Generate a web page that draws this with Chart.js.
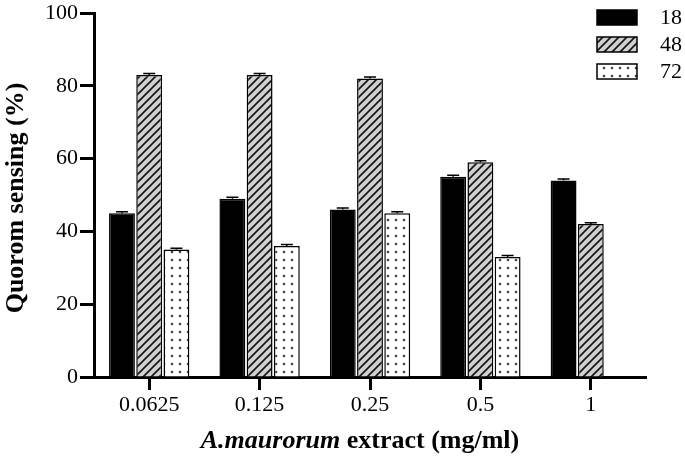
<!DOCTYPE html>
<html>
<head>
<meta charset="utf-8">
<script src="https://cdn.jsdelivr.net/npm/chart.js@4/dist/chart.umd.min.js"></script>
<style>
  html, body { margin: 0; padding: 0; background: #fff; }
  #wrap { width: 685px; height: 459px; position: relative; }
</style>
</head>
<body>
<div id="wrap"><canvas id="qsChart"></canvas></div>
<script>
// --- Data ---
const doses = ['0.0625', '0.125', '0.25', '0.5', '1'];
const seriesNames = ['18', '48', '72'];
const qs18 = [45, 49, 46, 55, 54];
const qs48 = [83, 83, 82, 59, 42];
const qs72 = [35, 36, 45, 33, null];
const err18 = [0.4, 0.4, 0.4, 0.4, 0.4];
const err48 = [0.4, 0.4, 0.4, 0.4, 0.4];
const err72 = [0.4, 0.4, 0.4, 0.4, null];
const yTicks = [0, 20, 40, 60, 80, 100];

const SERIF = '"Liberation Serif", "DejaVu Serif", serif';

// --- Fill patterns ---
function hatchPattern() {
    const c = document.createElement('canvas');
    c.width = 8; c.height = 8;
    const g = c.getContext('2d');
    g.fillStyle = '#d0d0d0';
    g.fillRect(0, 0, 8, 8);
    g.strokeStyle = '#111';
    g.lineWidth = 1.6;
    g.beginPath();
    g.moveTo(-2, 10); g.lineTo(10, -2);
    g.moveTo(-2, 2); g.lineTo(2, -2);
    g.moveTo(6, 10); g.lineTo(10, 6);
    g.stroke();
    return g.createPattern(c, 'repeat');
}

function dotPattern() {
    const c = document.createElement('canvas');
    c.width = 8; c.height = 8;
    const g = c.getContext('2d');
    g.fillStyle = '#fff';
    g.fillRect(0, 0, 8, 8);
    g.fillStyle = '#444';
    g.beginPath();
    g.arc(4, 4, 1.3, 0, Math.PI * 2);
    g.fill();
    return g.createPattern(c, 'repeat');
}

const fills = ['#000', hatchPattern(), dotPattern()];
const errs = [err18, err48, err72];

// --- Error caps, legend and axis titles drawn on top ---
const extrasPlugin = {
    id: 'extras',
    afterDatasetsDraw(chart) {
        const ctx = chart.ctx;
        const y = chart.scales.y;
        ctx.save();
        ctx.strokeStyle = '#000';
        ctx.lineWidth = 1.5;
        chart.data.datasets.forEach((ds, i) => {
            const meta = chart.getDatasetMeta(i);
            meta.data.forEach((bar, j) => {
                const v = ds.data[j];
                const e = errs[i][j];
                if (v == null || e == null) return;
                const top = y.getPixelForValue(v + e);
                ctx.beginPath();
                ctx.moveTo(bar.x, bar.y);
                ctx.lineTo(bar.x, top);
                ctx.moveTo(bar.x - 6, top);
                ctx.lineTo(bar.x + 6, top);
                ctx.stroke();
            });
        });
        ctx.restore();
    },
    afterDraw(chart) {
        const ctx = chart.ctx;
        ctx.save();

        // legend
        const boxX = 597, boxW = 40, boxH = 15;
        const rowsY = [10, 37, 64];
        chart.data.datasets.forEach((ds, i) => {
            ctx.fillStyle = ds.backgroundColor;
            ctx.fillRect(boxX, rowsY[i], boxW, boxH);
            ctx.strokeStyle = '#000';
            ctx.lineWidth = 1.5;
            ctx.strokeRect(boxX, rowsY[i], boxW, boxH);
            ctx.fillStyle = '#000';
            ctx.font = '22px ' + SERIF;
            ctx.textAlign = 'left';
            ctx.textBaseline = 'middle';
            ctx.fillText(ds.label, 660, rowsY[i] + boxH / 2 + 1);
        });

        // y title
        ctx.fillStyle = '#000';
        ctx.font = 'bold 26px ' + SERIF;
        ctx.textAlign = 'center';
        ctx.textBaseline = 'alphabetic';
        ctx.save();
        ctx.translate(23, 198);
        ctx.rotate(-Math.PI / 2);
        ctx.fillText('Quorom sensing (%)', 0, 0);
        ctx.restore();

        // x title, species name in italics
        const part1 = 'A.maurorum';
        const part2 = ' extract (mg/ml)';
        ctx.font = 'italic bold 26px ' + SERIF;
        const w1 = ctx.measureText(part1).width;
        ctx.font = 'bold 26px ' + SERIF;
        const w2 = ctx.measureText(part2).width;
        const startX = 360 - (w1 + w2) / 2;
        ctx.textAlign = 'left';
        ctx.font = 'italic bold 26px ' + SERIF;
        ctx.fillText(part1, startX, 448);
        ctx.font = 'bold 26px ' + SERIF;
        ctx.fillText(part2, startX + w1, 448);

        ctx.restore();
    }
};

const ctx = document.getElementById('qsChart').getContext('2d');

new Chart(ctx, {
    type: 'bar',
    data: {
        labels: doses,
        datasets: [qs18, qs48, qs72].map((d, i) => ({
            label: seriesNames[i],
            data: d,
            backgroundColor: fills[i],
            borderColor: '#000',
            borderWidth: 1.5,
            borderSkipped: 'bottom',
            categoryPercentage: 0.74,
            barPercentage: 0.95
        }))
    },
    options: {
        responsive: true,
        maintainAspectRatio: false,
        animation: false,
        layout: {
            padding: { top: 12, right: 39, left: 0, bottom: 0 }
        },
        scales: {
            x: {
                grid: {
                    offset: false,
                    drawOnChartArea: false,
                    drawTicks: true,
                    tickLength: 13,
                    tickWidth: 3,
                    tickColor: '#000'
                },
                border: { display: true, color: '#000', width: 3 },
                ticks: {
                    color: '#000',
                    padding: 4,
                    font: { family: SERIF, size: 22, lineHeight: 1 }
                },
                afterFit(scale) { scale.height = 82; }
            },
            y: {
                min: 0,
                max: 100,
                afterBuildTicks(scale) {
                    scale.ticks = yTicks.map(v => ({ value: v }));
                },
                grid: {
                    drawOnChartArea: false,
                    drawTicks: true,
                    tickLength: 14,
                    tickWidth: 3,
                    tickColor: '#000'
                },
                border: { display: true, color: '#000', width: 3 },
                ticks: {
                    color: '#000',
                    padding: 2,
                    font: { family: SERIF, size: 22, lineHeight: 1 }
                },
                afterFit(scale) { scale.width = 94; }
            }
        },
        plugins: {
            legend: { display: false },
            tooltip: { enabled: false }
        }
    },
    plugins: [extrasPlugin]
});
</script>
</body>
</html>
